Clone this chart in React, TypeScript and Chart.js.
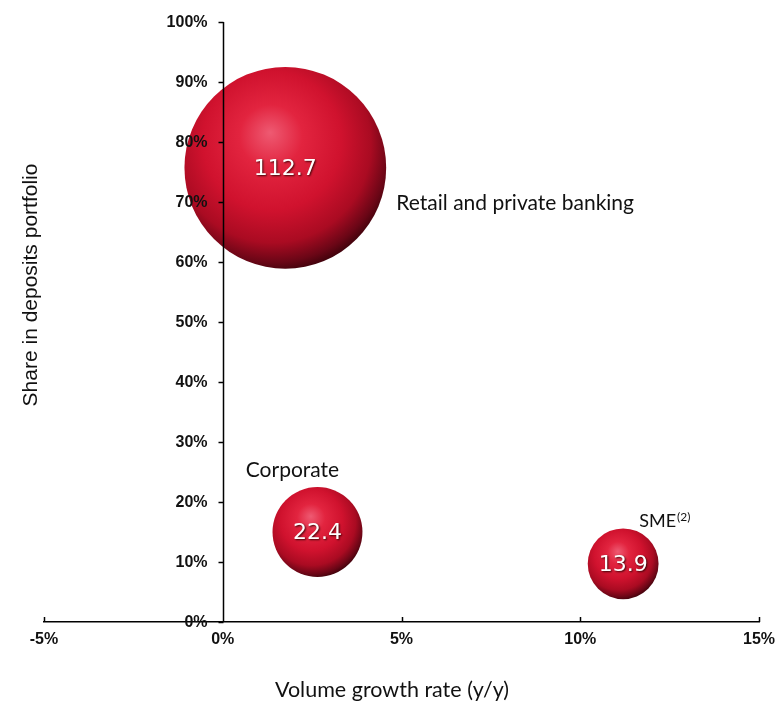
import React, { useEffect, useRef } from "react";
import { Chart, registerables } from "chart.js";

Chart.register(...registerables);

// ---- data ----
const segments = ["Retail and private banking", "Corporate", "SME"];
const growthRate = [1.75, 2.65, 11.2]; // x, % y/y
const depositShare = [75.7, 15.0, 9.7]; // y, % of portfolio
const volume = [112.7, 22.4, 13.9]; // bubble value
const xTicks = [-5, 0, 5, 10, 15];
const yTicks = [0, 10, 20, 30, 40, 50, 60, 70, 80, 90, 100];

// label placement (offsets from bubble centre, px)
const labelOffsets = [
  { dx: 111, dy: 35, align: "left" as CanvasTextAlign, size: 21 },
  { dx: -25, dy: -62, align: "center" as CanvasTextAlign, size: 21 },
  { dx: 16, dy: -43, align: "left" as CanvasTextAlign, size: 18 },
];

const radiusOf = (v: number) => 9.5 * Math.sqrt(v);
const TICK_FONT = 'bold 16px "Liberation Sans", Arial, sans-serif';

const sphereFill = (ctx: any) => {
  const chart = ctx.chart;
  const raw = ctx.raw;
  if (!raw || !chart.scales || !chart.scales.x || !chart.scales.y) return "#c8102c";
  const cx = chart.scales.x.getPixelForValue(raw.x);
  const cy = chart.scales.y.getPixelForValue(raw.y);
  const r = raw.r;
  if (![cx, cy, r].every((v) => Number.isFinite(v))) return "#c8102c";
  const g = chart.ctx.createRadialGradient(
    cx - 0.15 * r, cy - 0.35 * r, 0,
    cx - 0.12 * r, cy - 0.2 * r, 1.25 * r
  );
  g.addColorStop(0, "#ee5a72");
  g.addColorStop(0.25, "#e2243f");
  g.addColorStop(0.55, "#d0122e");
  g.addColorStop(0.78, "#aa0b22");
  g.addColorStop(0.92, "#6a0616");
  g.addColorStop(1, "#3a020a");
  return g;
};

const overlayPlugin = {
  id: "overlay",
  afterDatasetsDraw(chart: any) {
    const { ctx, scales } = chart;
    const xs = scales.x;
    const ys = scales.y;
    ctx.save();
    ctx.strokeStyle = "#000";
    ctx.lineWidth = 1.5;
    const yb = ys.getPixelForValue(0);
    // inward x-axis tick marks
    xTicks.forEach((t) => {
      if (t === 0) return;
      const px = Math.round(xs.getPixelForValue(t)) + 0.5;
      ctx.beginPath();
      ctx.moveTo(px, yb);
      ctx.lineTo(px, yb - 5);
      ctx.stroke();
    });
    // y axis crossing at x = 0
    const x0 = Math.round(xs.getPixelForValue(0)) + 0.5;
    ctx.beginPath();
    ctx.moveTo(x0, ys.getPixelForValue(100));
    ctx.lineTo(x0, yb);
    ctx.stroke();
    ctx.font = TICK_FONT;
    ctx.fillStyle = "#111";
    ctx.textAlign = "right";
    ctx.textBaseline = "middle";
    yTicks.forEach((t) => {
      const py = Math.round(ys.getPixelForValue(t)) + 0.5;
      ctx.beginPath();
      ctx.moveTo(x0 - 5, py);
      ctx.lineTo(x0, py);
      ctx.stroke();
      ctx.fillText(t + "%", x0 - 16, py);
    });
    // bubble values
    segments.forEach((s, i) => {
      const cx = xs.getPixelForValue(growthRate[i]);
      const cy = ys.getPixelForValue(depositShare[i]);
      ctx.save();
      ctx.font = '22px "DejaVu Sans", sans-serif';
      ctx.textAlign = "center";
      ctx.textBaseline = "middle";
      ctx.shadowColor = "rgba(40,0,0,0.9)";
      ctx.shadowBlur = 2;
      ctx.shadowOffsetX = 1;
      ctx.shadowOffsetY = 1;
      ctx.fillStyle = "#ffffff";
      ctx.fillText(volume[i].toFixed(1), cx, cy + 1);
      ctx.restore();
      // category labels
      const o = labelOffsets[i];
      ctx.font = o.size + 'px "Lato", sans-serif';
      ctx.fillStyle = "#111";
      ctx.textAlign = o.align;
      ctx.textBaseline = "middle";
      ctx.fillText(s, cx + o.dx, cy + o.dy);
      if (s === "SME") {
        const w = ctx.measureText(s).width;
        ctx.font = '12px "Lato", sans-serif';
        ctx.textAlign = "left";
        ctx.fillText("(2)", cx + o.dx + w + 1, cy + o.dy - 4);
      }
    });
    // axis titles
    ctx.fillStyle = "#111";
    ctx.font = '21.5px "Lato", sans-serif';
    ctx.textAlign = "center";
    ctx.textBaseline = "middle";
    ctx.fillText("Volume growth rate (y/y)", 392, 690);
    ctx.save();
    ctx.translate(31, 285);
    ctx.rotate(-Math.PI / 2);
    ctx.font = '21px "Liberation Sans", Arial, sans-serif';
    ctx.fillText("Share in deposits portfolio", 0, 0);
    ctx.restore();
    ctx.restore();
  },
};

export default function App() {
  const ref = useRef<HTMLCanvasElement>(null);
  useEffect(() => {
    if (!ref.current) return;
    const tickFont = { family: '"Liberation Sans", Arial, sans-serif', size: 16, weight: "bold" as const };
    const chart = new Chart(ref.current, {
      type: "bubble",
      data: {
        datasets: [
          {
            data: segments.map((_, i) => ({
              x: growthRate[i],
              y: depositShare[i],
              r: radiusOf(volume[i]),
            })),
            backgroundColor: sphereFill,
            hoverBackgroundColor: sphereFill,
            borderWidth: 0,
            hoverBorderWidth: 0,
            clip: false as any,
          },
        ],
      },
      options: {
        animation: false,
        responsive: true,
        maintainAspectRatio: false,
        layout: { autoPadding: false, padding: { left: 44, right: 16, top: 22, bottom: 0 } },
        plugins: {
          legend: { display: false },
          tooltip: { enabled: false },
        },
        scales: {
          x: {
            type: "linear",
            position: "bottom",
            min: -5,
            max: 15,
            afterFit: (s: any) => {
              s.height = 79;
              s.paddingLeft = 0;
              s.paddingRight = 0;
            },
            afterBuildTicks: (s: any) => {
              s.ticks = xTicks.map((v) => ({ value: v }));
            },
            grid: { display: false, drawTicks: false },
            border: { display: true, color: "#000", width: 1.5 },
            ticks: {
              font: tickFont,
              color: "#111",
              padding: 8,
              maxRotation: 0,
              callback: (v: any) => v + "%",
            },
          },
          y: {
            type: "linear",
            display: false,
            min: 0,
            max: 100,
          },
        },
      },
      plugins: [overlayPlugin],
    });
    return () => chart.destroy();
  }, []);
  return (
    <div style={{ position: "fixed", left: 0, top: 0, width: 775, height: 701, background: "#fff" }}>
      <canvas ref={ref} />
    </div>
  );
}
